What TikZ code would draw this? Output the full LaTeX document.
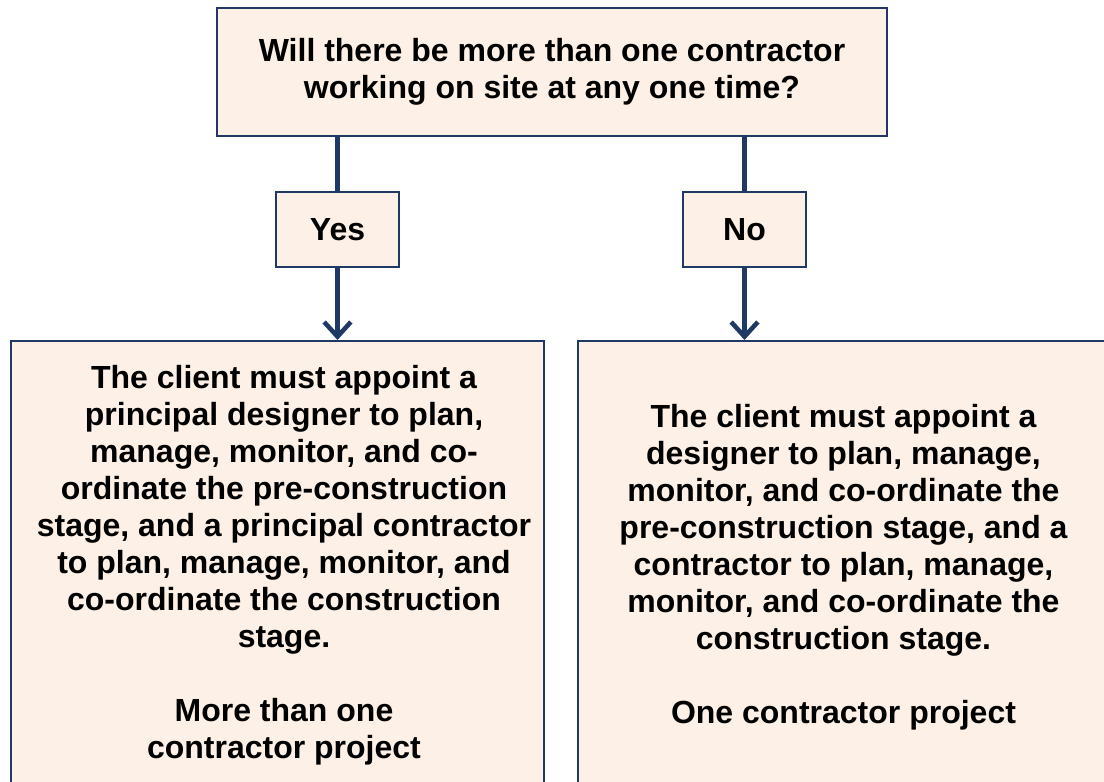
\documentclass[tikz,border=0pt]{standalone}
\usepackage{fontspec}
\setmainfont{Liberation Sans}
\usetikzlibrary{arrows.meta, positioning}
\definecolor{boxline}{RGB}{31,56,100}
\definecolor{boxfill}{RGB}{253,240,230}
\tikzset{
  box/.style={rectangle, draw=boxline, fill=boxfill, line width=1.8pt, inner sep=0pt},
  link/.style={draw=boxline, line width=3.4pt},
  every node/.style={align=center, font=\bfseries\fontsize{24}{27.75}\selectfont}
}

\begin{document}
\begin{tikzpicture}[x=0.75pt, y=-0.75pt]
  \clip (0,0) rectangle (1104,782);
  % Nodes
  \node (question) [box, minimum width=502.5pt, minimum height=96pt] at (552,72) {Will there be more than one contractor\\working on site at any one time?};
  \node (yes) [box, minimum width=92.25pt, minimum height=56.25pt] at (337.5,229.5) {Yes};
  \node (no) [box, minimum width=92.25pt, minimum height=56.25pt] at (744.5,229.5) {No};
  \node (yesres) [box, anchor=north west, minimum width=399.75pt, minimum height=360pt] at (10,340) {};
  \node (nores) [box, anchor=north west, minimum width=399.75pt, minimum height=360pt] at (577,340) {};
  \node (yestxt) [anchor=north, inner sep=0pt] at (284,365) {The client must appoint a\\principal designer to plan,\\manage, monitor, and co-\\ordinate the pre-construction\\stage, and a principal contractor\\to plan, manage, monitor, and\\co-ordinate the construction\\stage.\\[27.75pt]More than one\\contractor project};
  \node (notxt) [anchor=north, inner sep=0pt] at (843.5,404) {The client must appoint a\\designer to plan, manage,\\monitor, and co-ordinate the\\pre-construction stage, and a\\contractor to plan, manage,\\monitor, and co-ordinate the\\construction stage.\\[27.75pt]One contractor project};

  % Arrows
  \draw[link] (question.south -| yes.north) -- (yes.north);
  \draw[link] (question.south -| no.north) -- (no.north);
  \draw[link, -{Straight Barb[length=11pt, width=20pt]}] (yes.south) -- (yes.south |- yesres.north);
  \draw[link, -{Straight Barb[length=11pt, width=20pt]}] (no.south) -- (no.south |- nores.north);
\end{tikzpicture}
\end{document}
